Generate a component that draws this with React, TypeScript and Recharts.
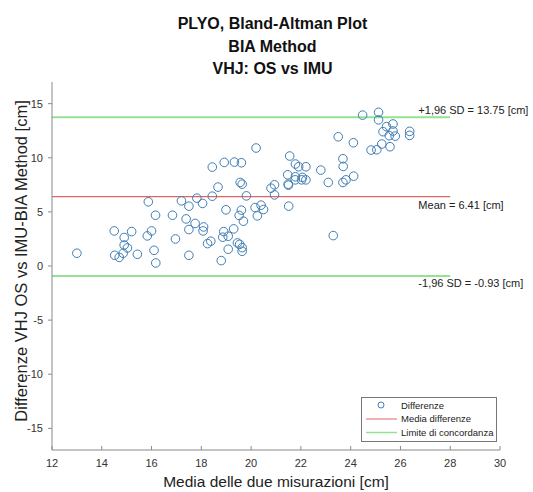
import { ReferenceLine, Scatter, ScatterChart, XAxis, YAxis } from "recharts";

// Bland-Altman: media delle due misurazioni (x) vs differenza (y)
const meanValues = [
    13.0, 14.5, 14.52, 14.7, 14.9, 14.9, 14.86, 15.03, 15.2, 15.43, 15.87, 16.16, 15.83, 16.0, 16.1, 16.17,
    20.2, 18.44, 18.92, 19.33, 19.61, 19.56, 19.64, 18.67, 18.44, 17.82, 17.2, 17.5, 18.05, 19.81,
    16.84, 17.39, 17.5, 17.75, 18.09, 18.07, 16.96, 17.5, 18.25, 18.38, 18.8, 18.9, 18.86, 19.08,
    19.3, 19.08, 19.45, 19.54, 19.64, 19.64, 18.99, 19.61, 19.52, 19.69, 20.16, 20.25, 20.4, 20.5,
    20.8, 23.5, 24.11, 24.82, 25.05, 21.55, 21.78, 21.91, 22.2, 23.69, 23.7, 22.8, 21.47, 21.78,
    21.77, 22.06, 22.03, 22.2, 21.49, 21.5, 23.1, 23.69, 23.81, 24.12, 20.94, 20.94, 21.51, 23.3,
    25.12, 25.12, 25.44, 25.7, 25.3, 25.7, 25.55, 25.79, 26.37, 26.37, 25.25, 25.58, 24.48,
];
const diffValues = [
    1.18, 3.24, 0.99, 0.8, 2.63, 1.94, 1.18, 1.67, 3.18, 1.08, 5.93, 4.69, 2.78, 3.24, 1.45, 0.28,
    10.9, 9.14, 9.57, 9.6, 9.54, 7.72, 7.56, 7.29, 6.45, 6.27, 6.02, 5.53, 5.78, 6.48,
    4.69, 4.35, 3.37, 3.93, 3.61, 3.24, 2.5, 0.99, 2.07, 2.29, 0.5, 3.18, 2.66, 2.75,
    3.43, 1.55, 2.13, 2.0, 1.7, 1.36, 5.19, 5.16, 4.67, 4.14, 5.4, 4.63, 5.62, 5.22,
    7.19, 11.94, 11.39, 10.71, 10.74, 10.16, 9.42, 9.17, 9.17, 9.91, 9.2, 8.86, 8.43, 8.24,
    7.96, 8.19, 7.96, 7.96, 7.56, 7.47, 7.72, 7.72, 7.96, 8.3, 7.5, 6.57, 5.53, 2.81,
    14.2, 13.5, 12.87, 13.12, 12.41, 12.47, 12.04, 12.0, 12.44, 12.07, 11.27, 11.02, 13.94,
];

const meanDiff = 6.41;
const upperLimit = 13.75;
const lowerLimit = -0.93;
const lineStart = 12;
const lineEnd = 28;
const labelStart = 26.72;

const xTicks = [12, 14, 16, 18, 20, 22, 24, 26, 28, 30];
const yTicks = [-15, -10, -5, 0, 5, 10, 15];
const titleLines = ["PLYO, Bland-Altman Plot", "BIA Method", "VHJ: OS vs IMU"];
const legendLabels = ["Differenze", "Media differenze", "Limite di concordanza"];

const FONT = '"Liberation Sans", Arial, Helvetica, sans-serif';
const BLUE = "#3f7db3";
const RED = "#e06464";
const GREEN = "#93e393";
const AXIS = "#8a8a8a";

const points = meanValues.map((x, i) => ({ x, y: diffValues[i] }));

function Ring(props: any) {
    if (props.cx == null || props.cy == null) return null;
    return <circle cx={props.cx} cy={props.cy} r={4.3} fill="none" stroke={BLUE} strokeWidth={1} />;
}

function LimitLabel(props: any) {
    const { viewBox, text, dy, xScaleStart } = props;
    if (!viewBox) return null;
    // text starts at labelStart (data units) along the segment
    const pxPerUnit = viewBox.width / (lineEnd - lineStart);
    const x = viewBox.x + (xScaleStart - lineStart) * pxPerUnit;
    return (
        <text
            x={x}
            y={viewBox.y + dy}
            fontSize={11}
            fontFamily={FONT}
            fill="#222"
            dominantBaseline="central"
        >
            {text}
        </text>
    );
}

function Legend() {
    return (
        <svg
            width={136}
            height={45}
            style={{ position: "absolute", left: 361, top: 397 }}
        >
            <rect x={0.5} y={0.5} width={135} height={44} fill="#fff" stroke="#777" />
            <circle cx={20} cy={8} r={3} fill="none" stroke={BLUE} />
            <line x1={5} x2={36} y1={22} y2={22} stroke={RED} strokeWidth={1} />
            <line x1={5} x2={36} y1={35.5} y2={35.5} stroke={GREEN} strokeWidth={1.5} />
            {legendLabels.map((t, i) => (
                <text
                    key={t}
                    x={40}
                    y={8 + i * 13.8}
                    fontSize={9.5}
                    fontFamily={FONT}
                    fill="#222"
                    dominantBaseline="central"
                >
                    {t}
                </text>
            ))}
        </svg>
    );
}

export default function App() {
    return (
        <div
            style={{
                position: "absolute",
                left: 0,
                top: 0,
                width: 533,
                height: 492,
                background: "#fff",
                fontFamily: FONT,
            }}
        >
            <div
                style={{
                    position: "absolute",
                    left: 0,
                    width: 545,
                    top: 13,
                    textAlign: "center",
                    fontWeight: "bold",
                    fontSize: 16,
                    lineHeight: "22.5px",
                    color: "#111",
                }}
            >
                {titleLines.map((t) => (
                    <div key={t}>{t}</div>
                ))}
            </div>
            <ScatterChart
                width={533}
                height={492}
                margin={{ top: 82, right: 33, bottom: 0, left: 22 }}
            >
                <XAxis
                    type="number"
                    dataKey="x"
                    domain={[12, 30]}
                    ticks={xTicks}
                    allowDataOverflow
                    height={42}
                    stroke={AXIS}
                    tickSize={-4}
                    tickMargin={13}
                    tick={{ fontSize: 11, fill: "#333", fontFamily: FONT }}
                />
                <YAxis
                    type="number"
                    dataKey="y"
                    domain={[-17, 17]}
                    ticks={yTicks}
                    allowDataOverflow
                    width={30}
                    stroke={AXIS}
                    tickSize={4}
                    tickMargin={5}
                    tick={{ fontSize: 11, fill: "#333", fontFamily: FONT }}
                />
                <ReferenceLine
                    segment={[
                        { x: lineStart, y: upperLimit },
                        { x: lineEnd, y: upperLimit },
                    ]}
                    stroke={GREEN}
                    strokeWidth={2}
                    label={<LimitLabel text="+1,96 SD = 13.75 [cm]" dy={-7} xScaleStart={labelStart} />}
                />
                <ReferenceLine
                    segment={[
                        { x: lineStart, y: meanDiff },
                        { x: lineEnd, y: meanDiff },
                    ]}
                    stroke={RED}
                    strokeWidth={1.2}
                    label={<LimitLabel text="Mean = 6.41 [cm]" dy={8} xScaleStart={labelStart} />}
                />
                <ReferenceLine
                    segment={[
                        { x: lineStart, y: lowerLimit },
                        { x: lineEnd, y: lowerLimit },
                    ]}
                    stroke={GREEN}
                    strokeWidth={2}
                    label={<LimitLabel text="-1,96 SD = -0.93 [cm]" dy={7} xScaleStart={labelStart} />}
                />
                <Scatter data={points} shape={<Ring />} isAnimationActive={false} />
            </ScatterChart>
            <Legend />
            <div
                style={{
                    position: "absolute",
                    left: 0,
                    width: 552,
                    top: 472,
                    textAlign: "center",
                    fontSize: 15.5,
                    lineHeight: "20px",
                    color: "#222",
                }}
            >
                Media delle due misurazioni [cm]
            </div>
            <div
                style={{
                    position: "absolute",
                    left: 21 - 180,
                    top: 261 - 10,
                    width: 360,
                    height: 20,
                    lineHeight: "20px",
                    textAlign: "center",
                    fontSize: 16.5,
                    color: "#222",
                    transform: "rotate(-90deg)",
                    whiteSpace: "nowrap",
                }}
            >
                Differenze VHJ OS vs IMU-BIA Method [cm]
            </div>
        </div>
    );
}
